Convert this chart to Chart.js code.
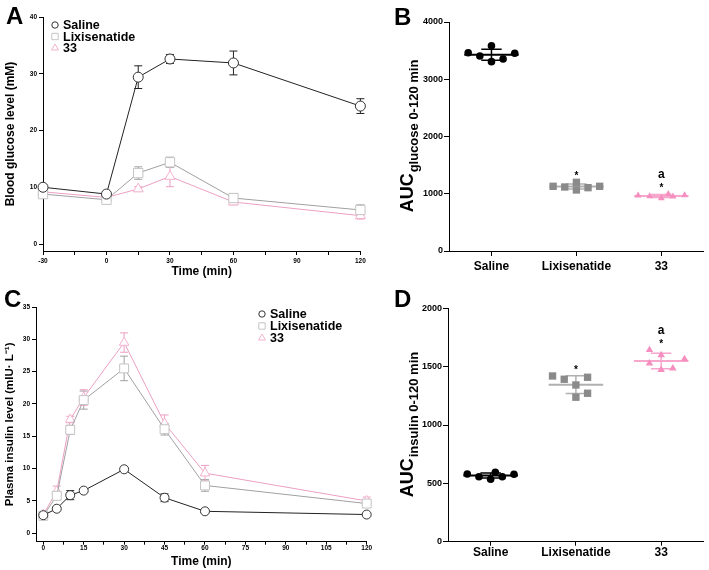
<!DOCTYPE html>
<html>
<head>
<meta charset="utf-8">
<script src="https://cdn.jsdelivr.net/npm/chart.js@4.4.0/dist/chart.umd.min.js"></script>
<style>
body { margin: 0; background: #fff; width: 709px; height: 570px; position: relative; overflow: hidden;
  font-family: "Liberation Sans", Arial, sans-serif; }
.panel { position: absolute; }
.letter { position: absolute; font-weight: bold; font-size: 24px; line-height: 24px; color: #000; }
</style>
</head>
<body>
<div class="panel" style="left:0;top:0;width:368px;height:285px"><canvas id="chartA"></canvas></div>
<div class="panel" style="left:365px;top:0;width:344px;height:285px"><canvas id="chartB"></canvas></div>
<div class="panel" style="left:0;top:285px;width:374px;height:285px"><canvas id="chartC"></canvas></div>
<div class="panel" style="left:365px;top:285px;width:344px;height:285px"><canvas id="chartD"></canvas></div>
<div class="letter" style="left:6px;top:4px">A</div>
<div class="letter" style="left:394px;top:5px">B</div>
<div class="letter" style="left:4px;top:287px">C</div>
<div class="letter" style="left:394px;top:287px">D</div>
<script>
// groups
const groups = ['Saline', 'Lixisenatide', '33'];

// A: blood glucose (mM), mean and error
const glucoseTime = [-30, 0, 15, 30, 60, 120];
const glucoseSaline = [10.0, 8.8, 29.4, 32.6, 31.9, 24.3];
const glucoseSalineErr = [0.4, 0.3, 2.0, 0.8, 2.1, 1.3];
const glucoseLixi = [8.8, 7.8, 12.5, 14.4, 8.1, 6.0];
const glucoseLixiErr = [0.4, 0.4, 1.1, 0.9, 0.4, 0.9];
const glucose33 = [9.2, 8.2, 9.7, 11.9, 7.4, 5.0];
const glucose33Err = [0.4, 0.4, 0.4, 1.8, 0.5, 0.6];
const glucoseTimeTicks = [-30, -15, 0, 15, 30, 45, 60, 75, 90, 105, 120];
const glucoseTicks = [0, 10, 20, 30, 40];

// C: plasma insulin (mIU/L)
const insulinTime = [0, 5, 10, 15, 30, 45, 60, 120];
const insulinSaline = [2.8, 3.8, 5.9, 6.6, 9.9, 5.5, 3.4, 2.9];
const insulinSalineErr = [0.3, 0.2, 0.7, 0.3, 0.3, 0.6, 0.2, 0.2];
const insulinLixi = [2.7, 5.8, 16.0, 20.6, 25.5, 16.1, 7.4, 4.6];
const insulinLixiErr = [0.3, 0.6, 0.7, 1.4, 1.9, 0.9, 0.9, 0.5];
const insulin33 = [2.9, 6.5, 17.6, 21.0, 29.5, 17.0, 9.3, 5.0];
const insulin33Err = [0.3, 0.8, 0.5, 1.2, 1.5, 1.3, 1.2, 0.6];
const insulinTimeTicks = [0, 7.5, 15, 22.5, 30, 37.5, 45, 52.5, 60, 67.5, 75, 82.5, 90, 97.5, 105, 112.5, 120];
const insulinTicks = [0, 5, 10, 15, 20, 25, 30, 35];

// B: AUC glucose, one value per animal + its column in the swarm
const aucGlucoseSaline = [3464, 3406, 3586, 3307, 3354, 3453];
const aucGlucoseLixi = [1130, 1118, 1200, 1066, 1106, 1130];
const aucGlucose33 = [970, 955, 920, 995, 950, 975];
const slotGlucose = [[-2, -1, 0, 0, 1, 2], [-2, -1, 0, 0, 1, 2], [-2, -1, 0, 0.6, 1, 2]];
const aucGlucoseTicks = [0, 1000, 2000, 3000, 4000];
const glucoseStar = ['', '*', '*'];
const glucoseLetter = ['', '', 'a'];

// D: AUC insulin
const aucInsulinSaline = [580, 557, 535, 595, 557, 578];
const aucInsulinLixi = [1420, 1392, 1343, 1238, 1409, 1272];
const aucInsulin33 = [1643, 1600, 1529, 1472, 1486, 1566];
const slotInsulin = [[-2, -1, 0, 0.4, 1, 2], [-2, -1, 0, 0, 1, 1], [-1, 0, -1, 0, 1, 2]];
const aucInsulinTicks = [0, 500, 1000, 1500, 2000];
const insulinStar = ['', '*', '*'];
const insulinLetter = ['', '', 'a'];

const FONT = '"Liberation Sans", Arial, sans-serif';
Chart.defaults.font.family = FONT;
Chart.defaults.font.weight = 'bold';
Chart.defaults.color = '#000';
Chart.defaults.animation = false;

const swarmStep = 0.137;

function drawMarker(ctx, style, x, y, r, stroke, fill) {
    ctx.beginPath();
    if (style === 'circle') {
        ctx.arc(x, y, r, 0, Math.PI * 2);
    } else if (style === 'rect') {
        ctx.rect(x - r, y - r, 2 * r, 2 * r);
    } else {
        ctx.moveTo(x, y - r);
        ctx.lineTo(x + r * 0.866, y + r * 0.5);
        ctx.lineTo(x - r * 0.866, y + r * 0.5);
        ctx.closePath();
    }
    ctx.fillStyle = fill;
    ctx.fill();
    ctx.strokeStyle = stroke;
    ctx.lineWidth = 1;
    ctx.stroke();
}

// error bars under the lines
const errorBars = {
    id: 'errorBars',
    beforeDatasetsDraw(chart) {
        const ctx = chart.ctx, xs = chart.scales.x, ys = chart.scales.y;
        chart.data.datasets.forEach(ds => {
            ctx.save();
            ctx.strokeStyle = ds.borderColor;
            ctx.lineWidth = 1;
            ds.data.forEach((p, j) => {
                const x = xs.getPixelForValue(p.x);
                const top = ys.getPixelForValue(p.y + ds.errors[j]);
                const bot = ys.getPixelForValue(p.y - ds.errors[j]);
                ctx.beginPath();
                ctx.moveTo(x, top); ctx.lineTo(x, bot);
                ctx.moveTo(x - 4, top); ctx.lineTo(x + 4, top);
                ctx.moveTo(x - 4, bot); ctx.lineTo(x + 4, bot);
                ctx.stroke();
            });
            ctx.restore();
        });
    }
};

function seriesLegend(dx, dy, rowGap) {
    return {
        id: 'seriesLegend',
        afterDraw(chart) {
            const ctx = chart.ctx, a = chart.chartArea;
            ctx.save();
            chart.data.datasets.forEach((ds, i) => {
                const x = a.left + dx, y = a.top + dy + i * rowGap;
                drawMarker(ctx, ds.pointStyle, x, y, ds.pointStyle === 'triangle' ? 4 : 3.2, ds.legendColor, '#fff');
                ctx.font = 'bold 12.5px ' + FONT;
                ctx.fillStyle = '#000';
                ctx.textBaseline = 'middle';
                ctx.textAlign = 'left';
                ctx.fillText(ds.label, x + 8, y + 1);
            });
            ctx.restore();
        }
    };
}

// mean line + SD for the dot plots
const meanSd = {
    id: 'meanSd',
    beforeDatasetsDraw(chart) {
        const ctx = chart.ctx, xs = chart.scales.x, ys = chart.scales.y;
        chart.data.datasets.forEach((ds, i) => {
            const vals = ds.data.map(p => p.y);
            const mean = vals.reduce((s, v) => s + v, 0) / vals.length;
            const sd = Math.sqrt(vals.reduce((s, v) => s + (v - mean) * (v - mean), 0) / (vals.length - 1));
            const g = i + 1;
            const ym = ys.getPixelForValue(mean);
            const yt = ys.getPixelForValue(mean + sd);
            const yb = ys.getPixelForValue(mean - sd);
            ctx.save();
            ctx.strokeStyle = ds.lineColor;
            ctx.lineWidth = 2;
            ctx.beginPath();
            ctx.moveTo(xs.getPixelForValue(g - 0.32), ym);
            ctx.lineTo(xs.getPixelForValue(g + 0.32), ym);
            ctx.stroke();
            ctx.lineWidth = 1.5;
            ctx.beginPath();
            ctx.moveTo(xs.getPixelForValue(g), yt); ctx.lineTo(xs.getPixelForValue(g), yb);
            ctx.moveTo(xs.getPixelForValue(g - 0.12), yt); ctx.lineTo(xs.getPixelForValue(g + 0.12), yt);
            ctx.moveTo(xs.getPixelForValue(g - 0.12), yb); ctx.lineTo(xs.getPixelForValue(g + 0.12), yb);
            ctx.stroke();
            ctx.restore();
        });
    }
};

function sigMarks(stars, letters) {
    return {
        id: 'sigMarks',
        afterDraw(chart) {
            const ctx = chart.ctx, xs = chart.scales.x, ys = chart.scales.y;
            ctx.save();
            ctx.fillStyle = '#000';
            ctx.textAlign = 'center';
            ctx.textBaseline = 'alphabetic';
            chart.data.datasets.forEach((ds, i) => {
                const top = ys.getPixelForValue(Math.max(...ds.data.map(p => p.y)));
                const x = xs.getPixelForValue(i + 1);
                ctx.font = 'bold 10px ' + FONT;
                ctx.fillText(stars[i], x, top - 3);
                ctx.font = 'bold 12px ' + FONT;
                ctx.fillText(letters[i], x, top - 16);
            });
            ctx.restore();
        }
    };
}

function aucTitle(sub) {
    return {
        id: 'aucTitle',
        afterDraw(chart) {
            const ctx = chart.ctx, a = chart.chartArea;
            ctx.save();
            ctx.fillStyle = '#000';
            ctx.font = 'bold 18px ' + FONT;
            const w1 = ctx.measureText('AUC').width;
            ctx.font = 'bold 13px ' + FONT;
            const w2 = ctx.measureText(sub).width;
            ctx.translate(48, (a.top + a.bottom) / 2 + (w1 + w2) / 2);
            ctx.rotate(-Math.PI / 2);
            ctx.textAlign = 'left';
            ctx.textBaseline = 'alphabetic';
            ctx.font = 'bold 18px ' + FONT;
            ctx.fillText('AUC', 0, 0);
            ctx.font = 'bold 13px ' + FONT;
            ctx.fillText(sub, w1 + 1, 5);
            ctx.restore();
        }
    };
}

function lineSet(label, xs, ys, errs, style, radius, color, markerColor) {
    return {
        label: label,
        data: xs.map((x, i) => ({ x: x, y: ys[i] })),
        errors: errs,
        borderColor: color,
        borderWidth: 1,
        pointStyle: style,
        pointRadius: radius,
        pointBorderColor: markerColor,
        pointBackgroundColor: '#fff',
        pointBorderWidth: 1,
        legendColor: markerColor,
        tension: 0,
        clip: false
    };
}

function dotSet(label, g, vals, slots, style, radius, color, lineColor) {
    return {
        label: label,
        data: vals.map((v, i) => ({ x: g + slots[i] * swarmStep, y: v })),
        pointStyle: style,
        pointRadius: radius,
        pointBackgroundColor: color,
        pointBorderColor: color,
        pointBorderWidth: 0,
        lineColor: lineColor,
        clip: false
    };
}

function axis(extra) {
    return Object.assign({
        type: 'linear',
        grid: { display: true, drawOnChartArea: false, tickLength: 4, color: '#000' },
        border: { color: '#000', width: 1 }
    }, extra);
}

const baseOptions = {
    responsive: true,
    maintainAspectRatio: false,
    animation: false,
    plugins: { legend: { display: false }, tooltip: { enabled: false } }
};

// ---- A ----
new Chart(document.getElementById('chartA'), {
    type: 'line',
    data: {
        datasets: [
            lineSet('Saline', glucoseTime, glucoseSaline, glucoseSalineErr, 'circle', 5, '#222', '#333'),
            lineSet('Lixisenatide', glucoseTime, glucoseLixi, glucoseLixiErr, 'rect', 6.6, '#a0a0a0', '#c4c4c4'),
            lineSet('33', glucoseTime, glucose33, glucose33Err, 'triangle', 5.8, '#ec9fc3', '#f4b3cf')
        ]
    },
    options: Object.assign({}, baseOptions, {
        layout: { padding: { top: 17, right: 7, left: 0, bottom: 0 } },
        scales: {
            x: axis({
                min: -30, max: 120,
                afterBuildTicks: s => { s.ticks = glucoseTimeTicks.map(v => ({ value: v })); },
                ticks: { font: { size: 6.5 }, padding: 2, maxRotation: 0, autoSkip: false,
                    callback: v => (v % 30 === 0 ? String(v) : '') },
                title: { display: true, text: 'Time (min)', font: { size: 12 }, padding: { top: 0, bottom: 6 } },
                afterFit: s => { s.height = 34; }
            }),
            y: axis({
                min: -1.23, max: 40,
                afterBuildTicks: s => { s.ticks = glucoseTicks.map(v => ({ value: v })); },
                ticks: { font: { size: 6.5 }, padding: 2, callback: v => String(v) },
                title: { display: true, text: 'Blood glucose level (mM)', font: { size: 12 }, padding: { top: 3, bottom: 0 } },
                afterFit: s => { s.width = 43; }
            })
        }
    }),
    plugins: [errorBars, seriesLegend(12, 8, 11.5)]
});

// ---- C ----
new Chart(document.getElementById('chartC'), {
    type: 'line',
    data: {
        datasets: [
            lineSet('Saline', insulinTime, insulinSaline, insulinSalineErr, 'circle', 4.5, '#222', '#333'),
            lineSet('Lixisenatide', insulinTime, insulinLixi, insulinLixiErr, 'rect', 6.3, '#a0a0a0', '#c4c4c4'),
            lineSet('33', insulinTime, insulin33, insulin33Err, 'triangle', 5.5, '#ec9fc3', '#f4b3cf')
        ]
    },
    options: Object.assign({}, baseOptions, {
        layout: { padding: { top: 22, right: 7, left: 0, bottom: 0 } },
        scales: {
            x: axis({
                min: -2.7, max: 120,
                afterBuildTicks: s => { s.ticks = insulinTimeTicks.map(v => ({ value: v })); },
                ticks: { font: { size: 6.5 }, padding: 0, maxRotation: 0, autoSkip: false,
                    callback: v => (v % 15 === 0 ? String(v) : '') },
                grid: { display: true, drawOnChartArea: false, tickLength: 3, color: '#000' },
                title: { display: true, text: 'Time (min)', font: { size: 12 }, padding: { top: 0, bottom: 1 } },
                afterFit: s => { s.height = 28.3; }
            }),
            y: axis({
                min: -1.3, max: 35,
                afterBuildTicks: s => { s.ticks = insulinTicks.map(v => ({ value: v })); },
                ticks: { font: { size: 6.5 }, padding: 2, callback: v => String(v) },
                title: { display: true, text: 'Plasma insulin level (mIU· L⁻¹)', font: { size: 11.5 }, padding: { top: 3, bottom: 0 } },
                afterFit: s => { s.width = 36; }
            })
        }
    }),
    plugins: [errorBars, seriesLegend(226, 7, 12)]
});

// ---- B ----
new Chart(document.getElementById('chartB'), {
    type: 'scatter',
    data: {
        datasets: [
            dotSet('Saline', 1, aucGlucoseSaline, slotGlucose[0], 'circle', 3.8, '#000', '#000'),
            dotSet('Lixisenatide', 2, aucGlucoseLixi, slotGlucose[1], 'rect', 5.2, '#8a8a8a', '#b0b0b0'),
            dotSet('33', 3, aucGlucose33, slotGlucose[2], 'triangle', 4, '#f58fc0', '#f7a6cc')
        ]
    },
    options: Object.assign({}, baseOptions, {
        layout: { padding: { top: 22, right: 2, left: 0, bottom: 0 } },
        scales: {
            x: axis({
                min: 0.5, max: 3.5,
                afterBuildTicks: s => { s.ticks = groups.map((g, i) => ({ value: i + 1 })); },
                ticks: { font: { size: 12 }, padding: 3, maxRotation: 0, autoSkip: false,
                    callback: v => groups[v - 1] },
                grid: { display: true, drawOnChartArea: false, tickLength: 5, color: '#000' },
                afterFit: s => { s.height = 34; }
            }),
            y: axis({
                min: 0, max: 4000,
                afterBuildTicks: s => { s.ticks = aucGlucoseTicks.map(v => ({ value: v })); },
                ticks: { font: { size: 9 }, padding: 1, callback: v => String(v) },
                grid: { display: true, drawOnChartArea: false, tickLength: 5, color: '#000' },
                afterFit: s => { s.width = 84; }
            })
        }
    }),
    plugins: [meanSd, sigMarks(glucoseStar, glucoseLetter), aucTitle('glucose 0-120 min')]
});

// ---- D ----
new Chart(document.getElementById('chartD'), {
    type: 'scatter',
    data: {
        datasets: [
            dotSet('Saline', 1, aucInsulinSaline, slotInsulin[0], 'circle', 3.8, '#000', '#000'),
            dotSet('Lixisenatide', 2, aucInsulinLixi, slotInsulin[1], 'rect', 5.2, '#8a8a8a', '#b0b0b0'),
            dotSet('33', 3, aucInsulin33, slotInsulin[2], 'triangle', 4.3, '#f58fc0', '#f7a6cc')
        ]
    },
    options: Object.assign({}, baseOptions, {
        layout: { padding: { top: 23.3, right: 2, left: 0, bottom: 0 } },
        scales: {
            x: axis({
                min: 0.5, max: 3.5,
                afterBuildTicks: s => { s.ticks = groups.map((g, i) => ({ value: i + 1 })); },
                ticks: { font: { size: 12 }, padding: 0, maxRotation: 0, autoSkip: false,
                    callback: v => groups[v - 1] },
                grid: { display: true, drawOnChartArea: false, tickLength: 4, color: '#000' },
                afterFit: s => { s.height = 28.3; }
            }),
            y: axis({
                min: 0, max: 2000,
                afterBuildTicks: s => { s.ticks = aucInsulinTicks.map(v => ({ value: v })); },
                ticks: { font: { size: 9 }, padding: 1, callback: v => String(v) },
                grid: { display: true, drawOnChartArea: false, tickLength: 5, color: '#000' },
                afterFit: s => { s.width = 83; }
            })
        }
    }),
    plugins: [meanSd, sigMarks(insulinStar, insulinLetter), aucTitle('insulin 0-120 min')]
});
</script>
</body>
</html>
